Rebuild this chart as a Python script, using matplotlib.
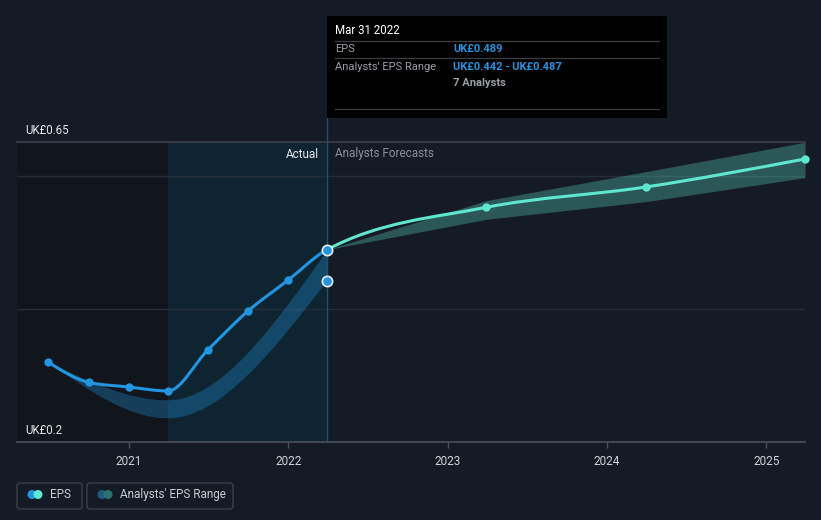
import numpy as np
import pandas as pd
import matplotlib
matplotlib.use("Agg")
import matplotlib.pyplot as plt
from matplotlib.path import Path
from matplotlib.patches import PathPatch, FancyBboxPatch, Circle, Rectangle

plt.rcParams['font.family'] = ['Roboto', 'DejaVu Sans']

# ---------------- data ----------------
eps_dates = ["2020-06-30", "2020-09-30", "2020-12-31", "2021-03-31",
             "2021-06-30", "2021-09-30", "2021-12-31", "2022-03-31"]
eps_values = [0.320, 0.290, 0.283, 0.277, 0.338, 0.3965, 0.443, 0.489]

past_range_dates = ["2020-06-30", "2021-03-31", "2022-03-31"]
past_range_low = [0.320, 0.236, 0.442]
past_range_high = [0.320, 0.263, 0.487]

fc_dates = ["2023-03-31", "2024-03-31", "2025-03-31"]
fc_values = [0.5525, 0.583, 0.625]
fc_low = [0.5345, 0.561, 0.597]
fc_high = [0.5625, 0.606, 0.650]

x_ticks = [2021, 2022, 2023, 2024, 2025]
x_tick_labels = ["2021", "2022", "2023", "2024", "2025"]
y_min, y_max = 0.2, 0.65
y_grid = [0.4, 0.6]
y_labels = ["UK£0.2", "UK£0.65"]

tooltip_date = "Mar 31 2022"
tooltip_analysts = "7 Analysts"
past_start = "2021-03-31"
now_date = "2022-03-31"
x_left_date = 2020.297


def dec_year(s):
    d = pd.Timestamp(s)
    days = 366 if d.is_leap_year else 365
    return d.year + (d.dayofyear - 1) / days


def monotone_tangents(x, y):
    x = np.asarray(x, float)
    y = np.asarray(y, float)
    n = len(x)
    h = np.diff(x)
    s = np.diff(y) / h
    m = np.zeros(n)
    if n == 2:
        m[:] = s[0]
        return m
    for i in range(1, n - 1):
        p = (s[i - 1] * h[i] + s[i] * h[i - 1]) / (h[i - 1] + h[i])
        m[i] = (np.sign(s[i - 1]) + np.sign(s[i])) * min(abs(s[i - 1]), abs(s[i]), 0.5 * abs(p))
    m[0] = (3 * s[0] - m[1]) / 2
    m[-1] = (3 * s[-1] - m[-2]) / 2
    return m


def curve_path(x, y, m, i0, i1):
    verts = [(x[i0], y[i0])]
    codes = [Path.MOVETO]
    for i in range(i0, i1):
        dx = (x[i + 1] - x[i]) / 3
        verts += [(x[i] + dx, y[i] + m[i] * dx), (x[i + 1] - dx, y[i + 1] - m[i + 1] * dx), (x[i + 1], y[i + 1])]
        codes += [Path.CURVE4] * 3
    return verts, codes


def smooth_band(x, lo, hi):
    x = np.asarray(x, float)
    lo = np.asarray(lo, float)
    hi = np.asarray(hi, float)
    v1, c1 = curve_path(x, hi, monotone_tangents(x, hi), 0, len(x) - 1)
    xr, lr = x[::-1], lo[::-1]
    v2, c2 = curve_path(xr, lr, monotone_tangents(xr, lr), 0, len(x) - 1)
    c2 = [Path.LINETO] + c2[1:]
    return Path(v1 + v2 + [v1[0]], c1 + c2 + [Path.CLOSEPOLY])


W, H = 821, 520
BG = "#151b24"
EPS_C = "#2394df"
FC_C = "#5ee6cf"

fig = plt.figure(figsize=(W / 100, H / 100), dpi=100)
fig.patch.set_facecolor(BG)
ax = fig.add_axes([17 / W, 1 - 442.3 / H, (805 - 17) / W, (442.3 - 142.3) / H])
ax.set_facecolor(BG)

xe = [dec_year(d) for d in eps_dates]
xp = [dec_year(d) for d in past_range_dates]
xf = [dec_year(d) for d in fc_dates]
xs = dec_year(past_start)
xn = dec_year(now_date)

ax.set_xlim(x_left_date, xf[-1])
ax.set_ylim(y_min, y_max)

# shaded regions
ax.axvspan(x_left_date, xs, color="#11151c", zorder=0, lw=0)
ax.axvspan(xs, xn, color="#0e2531", zorder=0, lw=0)

# gridlines
for g in y_grid:
    ax.axhline(g, color="#272d37", lw=1, zorder=1)
ax.axhline(y_max, color="#3b414b", lw=1.2, zorder=1, clip_on=False)
ax.axhline(y_min, color="#4a5059", lw=1.2, zorder=1, clip_on=False)

# vertical "now" line
ax.plot([xn, xn], [y_min, y_max + 25 / 666.7], color="#1f5068", lw=1, zorder=2, clip_on=False)

# bands
ax.add_patch(PathPatch(smooth_band(xp, past_range_low, past_range_high),
                       facecolor=EPS_C, alpha=0.32, lw=0, zorder=3))
fx = [xe[-1]] + xf
flo = [eps_values[-1]] + fc_low
fhi = [eps_values[-1]] + fc_high
ax.fill_between(fx, flo, fhi, color=FC_C, alpha=0.3, lw=0, zorder=3, clip_on=False)

# one continuous smooth line, coloured by actual / forecast
all_x = np.array(xe + xf)
all_y = np.array(eps_values + fc_values)
mt = monotone_tangents(all_x, all_y)
n_act = len(xe)
v, c = curve_path(all_x, all_y, mt, 0, n_act - 1)
ax.add_patch(PathPatch(Path(v, c), facecolor="none", edgecolor=EPS_C, lw=2.2, zorder=4, capstyle="round"))
v, c = curve_path(all_x, all_y, mt, n_act - 1, len(all_x) - 1)
ax.add_patch(PathPatch(Path(v, c), facecolor="none", edgecolor=FC_C, lw=2.2, zorder=4, capstyle="round",
                       clip_on=False))

ax.scatter(xe[:-1], eps_values[:-1], s=36, color=EPS_C, zorder=5, lw=0)
ax.scatter(xf, fc_values, s=36, color=FC_C, zorder=5, lw=0, clip_on=False)
ax.scatter([xe[-1], xp[-1]], [eps_values[-1], past_range_low[-1]], s=55, color=EPS_C,
           edgecolor="#e8eef5", lw=1.2, zorder=6, clip_on=False)

# axes styling
for sp in ax.spines.values():
    sp.set_visible(False)
ax.set_yticks([])
ax.set_xticks(x_ticks)
ax.set_xticklabels(x_tick_labels, color="#d0d3d8", fontsize=8.5)
ax.tick_params(axis="x", length=4, color="#4a5059", pad=5, width=1)

# overlay in pixel coordinates
ov = fig.add_axes([0, 0, 1, 1])
ov.set_xlim(0, W)
ov.set_ylim(H, 0)
ov.axis("off")
ov.patch.set_visible(False)

ov.text(25, 130, y_labels[1], color="#e6e8eb", fontsize=8.3, va="center", ha="left")
ov.text(25, 430, y_labels[0], color="#e6e8eb", fontsize=8.3, va="center", ha="left")
ov.text(319, 154, "Actual", color="#e6e8eb", fontsize=8.5, va="center", ha="right")
ov.text(335, 154, "Analysts Forecasts", color="#8a8f96", fontsize=8.5, va="center", ha="left")

# tooltip
ov.add_patch(Rectangle((327, 16), 340, 102, facecolor="#000000", edgecolor="none", zorder=10))
for yy in (41, 58, 109):
    ov.plot([335, 659], [yy, yy], color="#3a3d42", lw=0.9, zorder=11)
ov.text(335, 31, tooltip_date, color="#ffffff", fontsize=8.3, va="center", ha="left", zorder=12)
ov.text(335, 49.5, "EPS", color="#9a9ea4", fontsize=8, va="center", ha="left", zorder=12)
ov.text(453, 49.5, f"UK£{eps_values[-1]:.3f}", color=EPS_C, fontsize=8, fontweight="bold",
        va="center", ha="left", zorder=12)
ov.text(335, 66.5, "Analysts' EPS Range", color="#9a9ea4", fontsize=8, va="center", ha="left", zorder=12)
ov.text(453, 66.5, f"UK£{past_range_low[-1]:.3f} - UK£{past_range_high[-1]:.3f}", color=EPS_C,
        fontsize=8, fontweight="bold", va="center", ha="left", zorder=12)
ov.text(453, 83.5, tooltip_analysts, color="#9a9ea4", fontsize=8, fontweight="bold",
        va="center", ha="left", zorder=12)

# legend
ov.add_patch(FancyBboxPatch((17, 483), 65, 26, boxstyle="round,pad=0,rounding_size=3",
                            facecolor="none", edgecolor="#3a404a", lw=1))
ov.add_patch(FancyBboxPatch((87, 483), 146, 26, boxstyle="round,pad=0,rounding_size=3",
                            facecolor="none", edgecolor="#3a404a", lw=1))
ov.add_patch(Circle((32, 494.5), 4.5, facecolor=EPS_C, edgecolor="none"))
ov.add_patch(Circle((38, 494.5), 4.5, facecolor=FC_C, edgecolor="none"))
ov.text(50, 494.5, "EPS", color="#c8ccd1", fontsize=8.5, va="center", ha="left")
ov.add_patch(Circle((102, 494.5), 4.5, facecolor="#1f5a85", edgecolor="none"))
ov.add_patch(Circle((108, 494.5), 4.5, facecolor="#2e7270", edgecolor="none"))
ov.text(120, 494.5, "Analysts' EPS Range", color="#c8ccd1", fontsize=8.5, va="center", ha="left")

fig.savefig("out.png", dpi=100, facecolor=BG)
